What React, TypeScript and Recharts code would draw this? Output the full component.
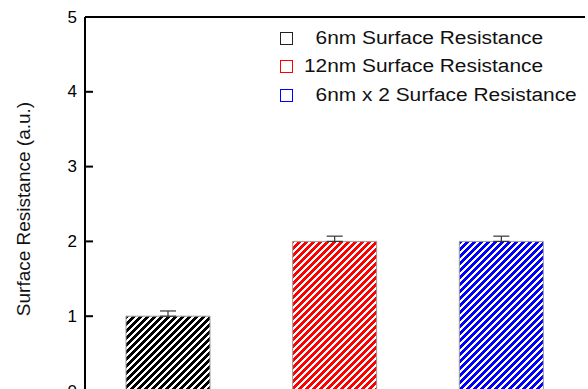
import React from 'react';
import { BarChart, Bar, XAxis, YAxis, Cell, ErrorBar, ReferenceLine, Legend } from 'recharts';

const categories = ['6nm', '12nm', '6nm x 2'];
const resistance = [1.0, 2.0, 2.0];
const errorUp = [0.07, 0.07, 0.07];
const legendLabels = ['  6nm Surface Resistance', '12nm Surface Resistance', '  6nm x 2 Surface Resistance'];
const yTicks = [0, 1, 2, 3, 4, 5];

const COLORS = ['#000000', '#ff0000', '#0000ff'];
const LEGEND_BORDER = ['#222222', '#ff0000', '#0000ff'];
const FONT = '"Liberation Sans", Arial, Helvetica, sans-serif';
const TILE = 7;
const STRIPE = 4;

const data = categories.map((name, i) => ({
  name,
  value: resistance[i],
  err: [0, errorUp[i]],
}));

// pixel-staircase diagonal stripes ("/" direction)
const stripeRects = (color: string) => {
  const out: React.ReactElement[] = [];
  for (let y = 0; y < TILE; y++) {
    const s = (TILE - y) % TILE;
    const first = Math.min(STRIPE, TILE - s);
    out.push(<rect key={`a${y}`} x={s} y={y} width={first} height={1} fill={color} />);
    if (first < STRIPE) {
      out.push(<rect key={`b${y}`} x={0} y={y} width={STRIPE - first} height={1} fill={color} />);
    }
  }
  return out;
};

const YTick = (props: any) => {
  const { x, y, payload } = props;
  return (
    <g>
      <line x1={x} x2={x + 8} y1={y} y2={y} stroke="#000" strokeWidth={2} />
      <text x={x - 8} y={y} textAnchor="end" dominantBaseline="central" fontSize={17} fill="#000" fontFamily={FONT}>
        {payload.value}
      </text>
    </g>
  );
};

const YLabel = (props: any) => {
  const vb = props.viewBox || { x: 0, y: 0, width: 0, height: 0 };
  const cx = vb.x + 23;
  const cy = vb.y + vb.height / 2 + 5;
  return (
    <text
      x={cx}
      y={cy}
      transform={`rotate(-90 ${cx} ${cy})`}
      textAnchor="middle"
      dominantBaseline="central"
      fontSize={19}
      fill="#111"
      fontFamily={FONT}
    >
      Surface Resistance (a.u.)
    </text>
  );
};

const LegendContent = () => (
  <div style={{ fontFamily: FONT }}>
    {legendLabels.map((label, i) => (
      <div key={i} style={{ height: 28.5, display: 'flex', alignItems: 'center' }}>
        <div
          style={{
            width: 13,
            height: 13,
            boxSizing: 'border-box',
            border: `1.3px solid ${LEGEND_BORDER[i]}`,
            flex: '0 0 auto',
          }}
        />
        <span
          style={{
            marginLeft: 11,
            fontSize: 18,
            color: '#111',
            whiteSpace: 'pre',
            display: 'inline-block',
            transform: 'scaleX(1.16)',
            transformOrigin: 'left center',
          }}
        >
          {label}
        </span>
      </div>
    ))}
  </div>
);

export default function App() {
  return (
    <div
      style={{
        position: 'fixed',
        top: 0,
        left: 0,
        width: 588,
        height: 389,
        overflow: 'hidden',
        background: '#fff',
        fontFamily: FONT,
      }}
    >
      <BarChart width={588} height={440} data={data} margin={{ top: 17, right: 3, left: 0, bottom: 19 }}>
        <defs>
          {COLORS.map((c, i) => (
            <pattern key={i} id={`stripe-${i}`} patternUnits="userSpaceOnUse" width={TILE} height={TILE}>
              <rect x={0} y={0} width={TILE} height={TILE} fill="#fff" />
              {stripeRects(c)}
            </pattern>
          ))}
        </defs>
        <XAxis
          dataKey="name"
          height={30}
          axisLine={{ stroke: '#000', strokeWidth: 2 }}
          tickLine={false}
          tick={false}
        />
        <YAxis
          width={85}
          domain={[0, 5]}
          ticks={yTicks}
          type="number"
          allowDataOverflow
          axisLine={{ stroke: '#000', strokeWidth: 2 }}
          tickLine={false}
          tickSize={0}
          tickMargin={0}
          tick={<YTick />}
          label={{ content: <YLabel /> } as any}
        />
        <YAxis
          yAxisId="right"
          orientation="right"
          width={0}
          domain={[0, 5]}
          axisLine={{ stroke: '#000', strokeWidth: 2 }}
          tick={false}
          tickLine={false}
        />
        <ReferenceLine y={5} stroke="#000" strokeWidth={2} />
        <Legend
          layout="horizontal"
          verticalAlign="middle"
          align="center"
          content={<LegendContent />}
          wrapperStyle={{ top: 24, left: 280, width: 320, height: 90 }}
        />
        <Bar dataKey="value" barSize={84} stroke="#9a9a9a" strokeWidth={1} isAnimationActive={false}>
          {data.map((_, i) => (
            <Cell key={i} fill={`url(#stripe-${i})`} />
          ))}
          <ErrorBar dataKey="err" width={8} stroke="#333" strokeWidth={1.2} direction="y" />
        </Bar>
      </BarChart>
    </div>
  );
}
